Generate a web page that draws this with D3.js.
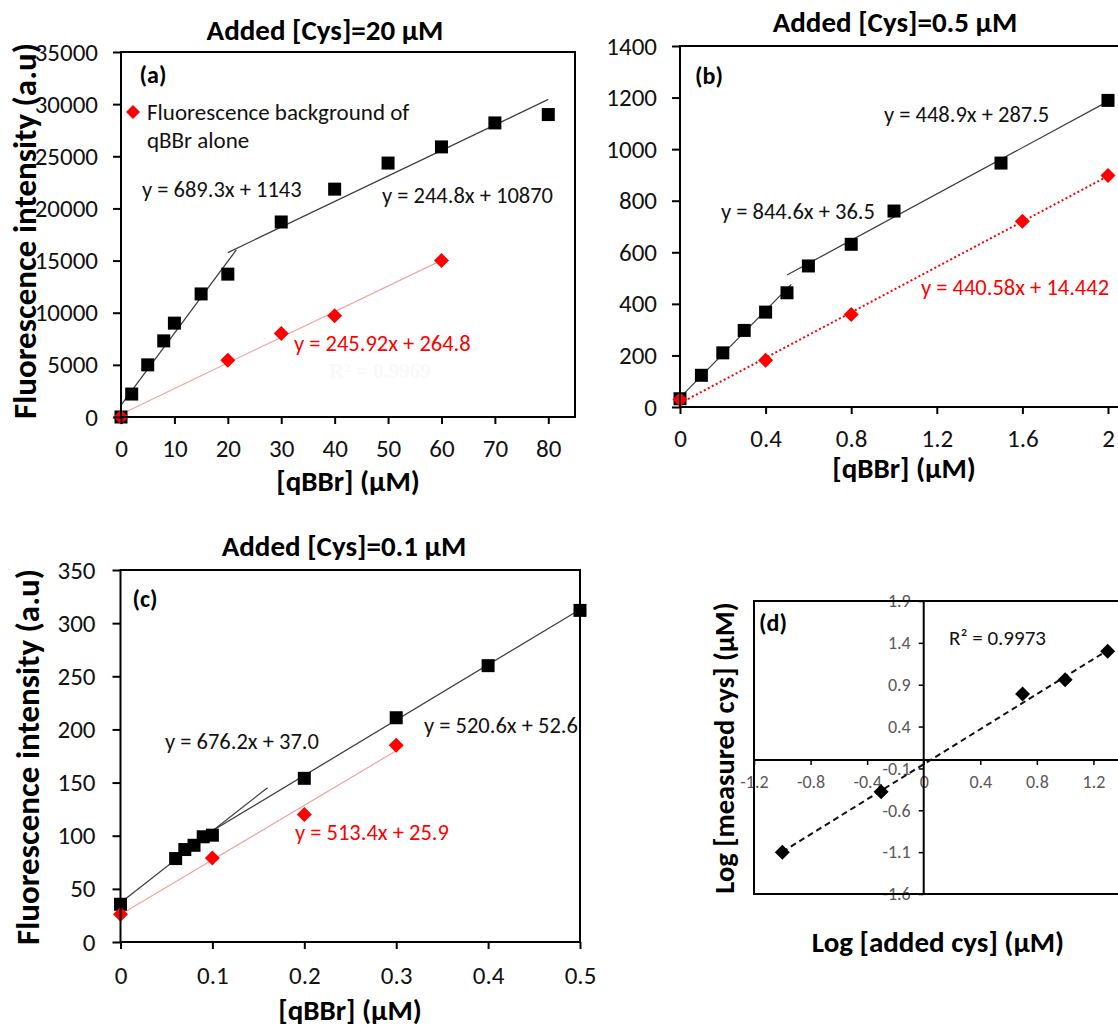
<!DOCTYPE html>
<html>
<head>
<meta charset="utf-8">
<script src="https://cdn.jsdelivr.net/npm/d3@7"></script>
<style>
  html, body { margin: 0; padding: 0; background: #ffffff; }
  svg { display: block; }
  text { font-family: Carlito, Calibri, Lato, "Open Sans", sans-serif; }
</style>
</head>
<body>
<svg id="chart" width="1118" height="1027"></svg>
<script>
// ---------------- DATA ----------------
// Panel (a): added [Cys] = 20 µM
const aQbbr      = [0, 2, 5, 8, 10, 15, 20, 30, 40, 50, 60, 70, 80];
const aSignal    = [0, 2200, 5000, 7300, 9000, 11800, 13700, 18700, 21850, 24350, 25900, 28200, 29000];
const aBgQbbr    = [0, 20, 30, 40, 60];
const aBg        = [0, 5450, 8000, 9700, 15000];
const aXTicks    = [0, 10, 20, 30, 40, 50, 60, 70, 80];
const aYTicks    = [0, 5000, 10000, 15000, 20000, 25000, 30000, 35000];
const aFits      = [
  { label: "y = 689.3x + 1143",  slope: 689.3,  intercept: 1143,  from: 0,  to: 21.6, red: false },
  { label: "y = 244.8x + 10870", slope: 244.8,  intercept: 10870, from: 20, to: 80,   red: false },
  { label: "y = 245.92x + 264.8", slope: 245.92, intercept: 264.8, from: 0,  to: 60,   red: true }
];

// Panel (b): added [Cys] = 0.5 µM
const bQbbr      = [0, 0.1, 0.2, 0.3, 0.4, 0.5, 0.6, 0.8, 1.0, 1.5, 2.0];
const bSignal    = [32, 123, 210, 297, 368, 443, 547, 631, 760, 946, 1189];
const bBgQbbr    = [0, 0.4, 0.8, 1.6, 2.0];
const bBg        = [29, 181, 359, 720, 898];
const bXTicks    = [0, 0.4, 0.8, 1.2, 1.6, 2];
const bYTicks    = [0, 200, 400, 600, 800, 1000, 1200, 1400];
const bFits      = [
  { label: "y = 844.6x + 36.5",    slope: 844.6,  intercept: 36.5,   from: 0,   to: 0.52, red: false },
  { label: "y = 448.9x + 287.5",   slope: 448.9,  intercept: 287.5,  from: 0.5, to: 2,    red: false },
  { label: "y = 440.58x + 14.442", slope: 440.58, intercept: 14.442, from: 0,   to: 2,    red: true }
];

// Panel (c): added [Cys] = 0.1 µM
const cQbbr      = [0, 0.06, 0.07, 0.08, 0.09, 0.1, 0.2, 0.3, 0.4, 0.5];
const cSignal    = [35.5, 78.5, 87, 91, 99, 100.5, 154, 211, 260, 312];
const cBgQbbr    = [0, 0.1, 0.2, 0.3];
const cBg        = [26, 79, 120, 185];
const cXTicks    = [0, 0.1, 0.2, 0.3, 0.4, 0.5];
const cYTicks    = [0, 50, 100, 150, 200, 250, 300, 350];
const cFits      = [
  { label: "y = 676.2x + 37.0", slope: 676.2, intercept: 37.0, from: 0,   to: 0.16, red: false },
  { label: "y = 520.6x + 52.6", slope: 520.6, intercept: 52.6, from: 0.1, to: 0.5,  red: false },
  { label: "y = 513.4x + 25.9", slope: 513.4, intercept: 25.9, from: 0,   to: 0.3,  red: true }
];

// Panel (d): log-log calibration
const dLogAdded    = [-1, -0.301, 0.699, 1, 1.301];
const dLogMeasured = [-1.10, -0.38, 0.79, 0.96, 1.30];
const dFit         = { slope: 1.047, intercept: -0.05, from: -1, to: 1.301 };
const dR2          = "R² = 0.9973";
const dXTicks      = [-1.2, -0.8, -0.4, 0, 0.4, 0.8, 1.2];
const dYTicks      = [-1.6, -1.1, -0.6, -0.1, 0.4, 0.9, 1.4, 1.9];

const titles = ["Added [Cys]=20 µM", "Added [Cys]=0.5 µM", "Added [Cys]=0.1 µM"];
const legendLines = ["Fluorescence background of", "qBBr alone"];

// ---------------- DRAW ----------------
const svg = d3.select("#chart");
svg.append("rect").attr("width", 1118).attr("height", 1027).attr("fill", "#fff");

const RED = "#ff0000";
const fmt = v => String(+v.toFixed(2));

function square(g, cx, cy) {
  g.append("rect").attr("x", cx - 6.5).attr("y", cy - 6.5).attr("width", 13).attr("height", 13).attr("fill", "#000");
}
function diamond(g, cx, cy, color, r) {
  g.append("path").attr("d", `M${cx},${cy - r}L${cx + r},${cy}L${cx},${cy + r}L${cx - r},${cy}Z`).attr("fill", color);
}

function panel(cfg) {
  const g = svg.append("g");
  const x = d3.scaleLinear().domain(cfg.xDomain).range([cfg.left, cfg.right]);
  const y = d3.scaleLinear().domain(cfg.yDomain).range([cfg.bottom, cfg.top]);

  // fit lines
  cfg.fits.forEach(f => {
    const pts = [f.from, f.to].map(v => [x(v), y(f.slope * v + f.intercept)]);
    g.append("path").attr("d", d3.line()(pts)).attr("fill", "none")
      .attr("stroke", f.red ? cfg.redLine : "#404040")
      .attr("stroke-width", f.red ? cfg.redWidth : 1.3)
      .attr("stroke-dasharray", f.red && cfg.redDash ? cfg.redDash : null);
  });

  // markers
  cfg.qbbr.forEach((v, i) => square(g, x(v), y(cfg.signal[i])));
  cfg.bgQbbr.forEach((v, i) => diamond(g, x(v), y(cfg.bg[i]), RED, 7.5));

  // equations
  cfg.fits.forEach((f, i) => {
    const p = cfg.eqPos[i];
    g.append("text").attr("x", p[0]).attr("y", p[1]).attr("dy", "0.35em")
      .attr("font-size", 22.5).attr("fill", f.red ? RED : "#111").text(f.label);
  });

  // axes
  const ax = g.append("g").attr("transform", `translate(0,${cfg.bottom})`)
    .call(d3.axisBottom(x).tickValues(cfg.xTicks).tickFormat(fmt).tickSize(7).tickSizeOuter(0).tickPadding(cfg.xPad));
  const ay = g.append("g").attr("transform", `translate(${cfg.left},0)`)
    .call(d3.axisLeft(y).tickValues(cfg.yTicks).tickFormat(fmt).tickSize(8).tickSizeOuter(0).tickPadding(cfg.yPad));
  [ax, ay].forEach(a => {
    a.select(".domain").remove();
    a.selectAll("line").attr("stroke", "#000").attr("stroke-width", 2);
    a.selectAll("text").attr("font-size", 25).attr("fill", "#111")
      .style("font-family", "Carlito, Calibri, Lato, sans-serif");
  });

  // frame
  g.append("rect").attr("x", cfg.left).attr("y", cfg.top)
    .attr("width", cfg.right - cfg.left).attr("height", cfg.bottom - cfg.top)
    .attr("fill", "none").attr("stroke", "#000").attr("stroke-width", 2);

  // title + axis titles
  g.append("text").attr("x", cfg.titlePos[0]).attr("y", cfg.titlePos[1]).attr("dy", "0.35em")
    .attr("text-anchor", "middle").attr("font-size", 29).attr("font-weight", "bold").text(cfg.title);
  g.append("text").attr("x", cfg.xTitlePos[0]).attr("y", cfg.xTitlePos[1]).attr("dy", "0.35em")
    .attr("text-anchor", "middle").attr("font-size", 29).attr("font-weight", "bold").text("[qBBr] (µM)");
  if (cfg.yTitlePos) {
    g.append("text").attr("transform", `translate(${cfg.yTitlePos[0]},${cfg.yTitlePos[1]}) rotate(-90)`)
      .attr("dy", "0.35em").attr("text-anchor", "middle").attr("font-size", 33).attr("font-weight", "bold")
      .text("Fluorescence intensity (a.u)");
  }
  g.append("text").attr("x", cfg.tagPos[0]).attr("y", cfg.tagPos[1]).attr("dy", "0.35em")
    .attr("text-anchor", "middle").attr("font-size", 24).attr("font-weight", "bold").text(cfg.tag);
  return { g, x, y };
}

// Panel (a)
const pa = panel({
  left: 121, right: 575, top: 52, bottom: 417, xDomain: [0, 85], yDomain: [0, 35000],
  qbbr: aQbbr, signal: aSignal, bgQbbr: aBgQbbr, bg: aBg, fits: aFits,
  xTicks: aXTicks, yTicks: aYTicks, xPad: 15, yPad: 15,
  redLine: "#f5a3a3", redWidth: 1.2, redDash: null,
  eqPos: [[142, 189], [382, 195], [294, 343]],
  title: titles[0], titlePos: [325, 30], xTitlePos: [348, 481], yTitlePos: [24, 231],
  tag: "(a)", tagPos: [153, 75]
});
// faint R² remnant in panel (a)
pa.g.append("text").attr("x", 329).attr("y", 371).attr("dy", "0.35em")
  .attr("font-size", 21).attr("font-weight", "bold").attr("fill", "#f9f9f9")
  .style("font-family", "'Liberation Serif', serif").text("R² = 0.9969");
// legend
diamond(pa.g, 133, 112, RED, 7);
legendLines.forEach((t, i) => {
  pa.g.append("text").attr("x", 147).attr("y", 112 + i * 28).attr("dy", "0.35em")
    .attr("font-size", 23).attr("fill", "#111").text(t);
});

// Panel (b)
panel({
  left: 680, right: 1129.4, top: 46, bottom: 407, xDomain: [0, 2.1], yDomain: [0, 1400],
  qbbr: bQbbr, signal: bSignal, bgQbbr: bBgQbbr, bg: bBg, fits: bFits,
  xTicks: bXTicks, yTicks: bYTicks, xPad: 15, yPad: 15,
  redLine: RED, redWidth: 2, redDash: "2,2.5",
  eqPos: [[721, 211], [884, 114], [921, 287]],
  title: titles[1], titlePos: [895, 22], xTitlePos: [904, 468], yTitlePos: null,
  tag: "(b)", tagPos: [709, 76]
});

// Panel (c)
panel({
  left: 120.5, right: 580, top: 570, bottom: 942, xDomain: [0, 0.5], yDomain: [0, 350],
  qbbr: cQbbr, signal: cSignal, bgQbbr: cBgQbbr, bg: cBg, fits: cFits,
  xTicks: cXTicks, yTicks: cYTicks, xPad: 17, yPad: 17,
  redLine: "#f5a3a3", redWidth: 1.2, redDash: null,
  eqPos: [[165, 741], [424, 725], [295, 832]],
  title: titles[2], titlePos: [344, 546], xTitlePos: [350, 1010], yTitlePos: [27, 757],
  tag: "(c)", tagPos: [145, 599]
});

// Panel (d)
(function () {
  const g = svg.append("g");
  const left = 754, right = 1150, top = 601, bottom = 894;
  const x = d3.scaleLinear().domain([-1.2, 1.6]).range([left, right]);
  const y = d3.scaleLinear().domain([-1.6, 1.9]).range([bottom, top]);

  const ax = g.append("g").attr("transform", `translate(0,${y(0)})`)
    .call(d3.axisBottom(x).tickValues(dXTicks).tickFormat(fmt).tickSize(5).tickSizeOuter(0).tickPadding(10));
  const ay = g.append("g").attr("transform", `translate(${x(0)},0)`)
    .call(d3.axisLeft(y).tickValues(dYTicks).tickFormat(fmt).tickSize(5).tickSizeOuter(0).tickPadding(8));
  [ax, ay].forEach(a => {
    a.select(".domain").remove();
    a.selectAll("line").attr("stroke", "#000").attr("stroke-width", 1.5);
    a.selectAll("text").attr("font-size", 18).attr("fill", "#595959")
      .style("font-family", "Carlito, Calibri, Lato, sans-serif");
  });
  // axis lines crossing at zero
  g.append("line").attr("x1", left).attr("x2", right).attr("y1", y(0)).attr("y2", y(0))
    .attr("stroke", "#000").attr("stroke-width", 2);
  g.append("line").attr("x1", x(0)).attr("x2", x(0)).attr("y1", top).attr("y2", bottom)
    .attr("stroke", "#000").attr("stroke-width", 2);

  // fit line (dashed)
  g.append("path").attr("d", d3.line()([dFit.from, dFit.to].map(v => [x(v), y(dFit.slope * v + dFit.intercept)])))
    .attr("fill", "none").attr("stroke", "#111").attr("stroke-width", 2).attr("stroke-dasharray", "6,4");
  dLogAdded.forEach((v, i) => diamond(g, x(v), y(dLogMeasured[i]), "#000", 7.5));

  g.append("rect").attr("x", left).attr("y", top).attr("width", right - left).attr("height", bottom - top)
    .attr("fill", "none").attr("stroke", "#000").attr("stroke-width", 2);

  g.append("text").attr("x", 949).attr("y", 638).attr("dy", "0.35em").attr("font-size", 21).attr("fill", "#111").text(dR2);
  g.append("text").attr("x", 773).attr("y", 623).attr("dy", "0.35em").attr("text-anchor", "middle")
    .attr("font-size", 24).attr("font-weight", "bold").text("(d)");
  g.append("text").attr("x", 938).attr("y", 942).attr("dy", "0.35em").attr("text-anchor", "middle")
    .attr("font-size", 29).attr("font-weight", "bold").text("Log [added cys] (µM)");
  g.append("text").attr("transform", "translate(724,748) rotate(-90)").attr("dy", "0.35em")
    .attr("text-anchor", "middle").attr("font-size", 28.5).attr("font-weight", "bold").text("Log [measured cys] (µM)");
})();
</script>
</body>
</html>
